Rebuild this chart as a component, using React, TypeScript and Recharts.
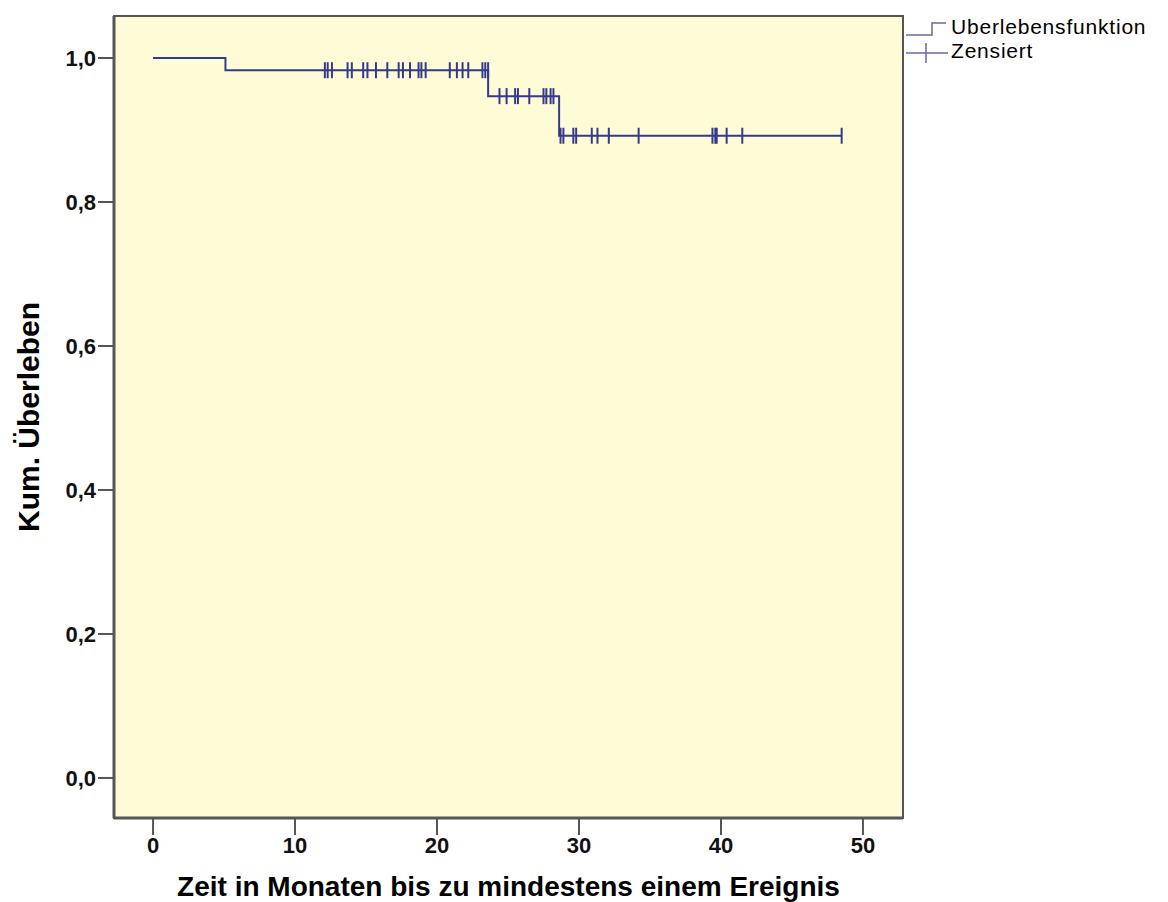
import React from 'react';
import {
  ComposedChart,
  Line,
  Scatter,
  XAxis,
  YAxis,
  ReferenceArea,
} from 'recharts';

// Kaplan-Meier Stufen (Zeit in Monaten, kum. Überleben)
const stufenZeit = [0, 5.1, 23.6, 28.6, 48.5];
const stufenWert = [1.0, 0.983, 0.947, 0.892, 0.892];

// zensierte Fälle je Stufe
const zensiert1 = [12.1, 12.3, 12.6, 13.7, 14.0, 14.8, 15.1, 15.7, 16.5, 17.3, 17.6, 18.1, 18.7, 18.9, 19.2, 20.9, 21.4, 21.8, 22.2, 23.2, 23.4, 23.6];
const zensiert2 = [24.4, 24.9, 25.5, 25.7, 26.5, 27.5, 27.7, 28.0, 28.2];
const zensiert3 = [28.7, 28.9, 29.6, 29.8, 30.9, 31.3, 32.1, 34.2, 39.4, 39.6, 39.7, 40.4, 41.5, 48.5];

const xTicks = [0, 10, 20, 30, 40, 50];
const yTicks = [0, 0.2, 0.4, 0.6, 0.8, 1.0];

const X_MIN = -2.75;
const X_MAX = 52.82;
const Y_MIN = -0.0556;
const Y_MAX = 1.0583;

const survData = stufenZeit.map((t, i) => ({ t, s: stufenWert[i] }));
const censData = [
  ...zensiert1.map((t) => ({ t, s: stufenWert[1] })),
  ...zensiert2.map((t) => ({ t, s: stufenWert[2] })),
  ...zensiert3.map((t) => ({ t, s: stufenWert[3] })),
];

const LINE = '#353a8c';
const AXIS = '#555555';
const FONT = 'Liberation Sans, Arial, sans-serif';

const CensorMark = (props: any) => {
  const { cx, cy } = props;
  if (cx == null || cy == null) return null;
  return <path d={`M${cx},${cy - 8}V${cy + 8}`} stroke={LINE} strokeWidth={2} fill="none" />;
};

const fmt = (v: number) => v.toFixed(1).replace('.', ',');

const LegendBox = () => (
  <svg
    width={264}
    height={70}
    style={{ position: 'absolute', left: 904, top: 8, fontFamily: FONT }}
  >
    <path d="M2,27H28V15H42" stroke="#6a6aa8" strokeWidth={1.5} fill="none" />
    <text x={47} y={26} fontSize={21} letterSpacing={0.8} fill="#000">Uberlebensfunktion</text>
    <path d="M2,45H44M22,35V55" stroke="#6a6aa8" strokeWidth={1.5} fill="none" />
    <text x={47} y={50} fontSize={21} letterSpacing={0.8} fill="#000">Zensiert</text>
  </svg>
);

export default function App(): React.ReactElement {
  return (
    <div style={{ position: 'absolute', left: 0, top: 0, width: 1168, height: 902, background: '#fff' }}>
      <ComposedChart
        width={1168}
        height={902}
        margin={{ top: 16, right: 265, left: 0, bottom: 0 }}
        style={{ fontFamily: FONT }}
      >
        <ReferenceArea
          x1={X_MIN}
          x2={X_MAX}
          y1={Y_MIN}
          y2={Y_MAX}
          fill="#fefcd7"
          fillOpacity={1}
          stroke={AXIS}
          strokeWidth={2}
          ifOverflow="visible"
        />
        <XAxis
          dataKey="t"
          type="number"
          domain={[X_MIN, X_MAX]}
          ticks={xTicks}
          allowDataOverflow
          height={84}
          stroke={AXIS}
          strokeWidth={3}
          tickSize={17}
          tick={{ fontSize: 22, fontWeight: 'bold', fill: '#111' }}
          tickLine={{ stroke: AXIS, strokeWidth: 2 }}
          label={{
            value: 'Zeit in Monaten bis zu mindestens einem Ereignis',
            position: 'insideBottom',
            offset: 6,
            fontSize: 28,
            fontWeight: 'bold',
            fill: '#000',
          }}
        />
        <YAxis
          type="number"
          domain={[Y_MIN, Y_MAX]}
          ticks={yTicks}
          allowDataOverflow
          width={114}
          stroke={AXIS}
          strokeWidth={3}
          tickSize={16}
          tickFormatter={fmt}
          tick={{ fontSize: 22, fontWeight: 'bold', fill: '#111' }}
          tickLine={{ stroke: AXIS, strokeWidth: 2 }}
          label={{
            value: 'Kum. Überleben',
            angle: -90,
            position: 'insideLeft',
            offset: 28,
            fontSize: 30,
            fontWeight: 'bold',
            fill: '#000',
            style: { textAnchor: 'middle' },
          }}
        />
        <Line
          data={survData}
          dataKey="s"
          type="stepAfter"
          stroke={LINE}
          strokeWidth={2}
          dot={false}
          activeDot={false}
          isAnimationActive={false}
          legendType="none"
        />
        <Scatter
          data={censData}
          dataKey="s"
          shape={<CensorMark />}
          isAnimationActive={false}
          legendType="none"
        />
      </ComposedChart>
      <LegendBox />
    </div>
  );
}
